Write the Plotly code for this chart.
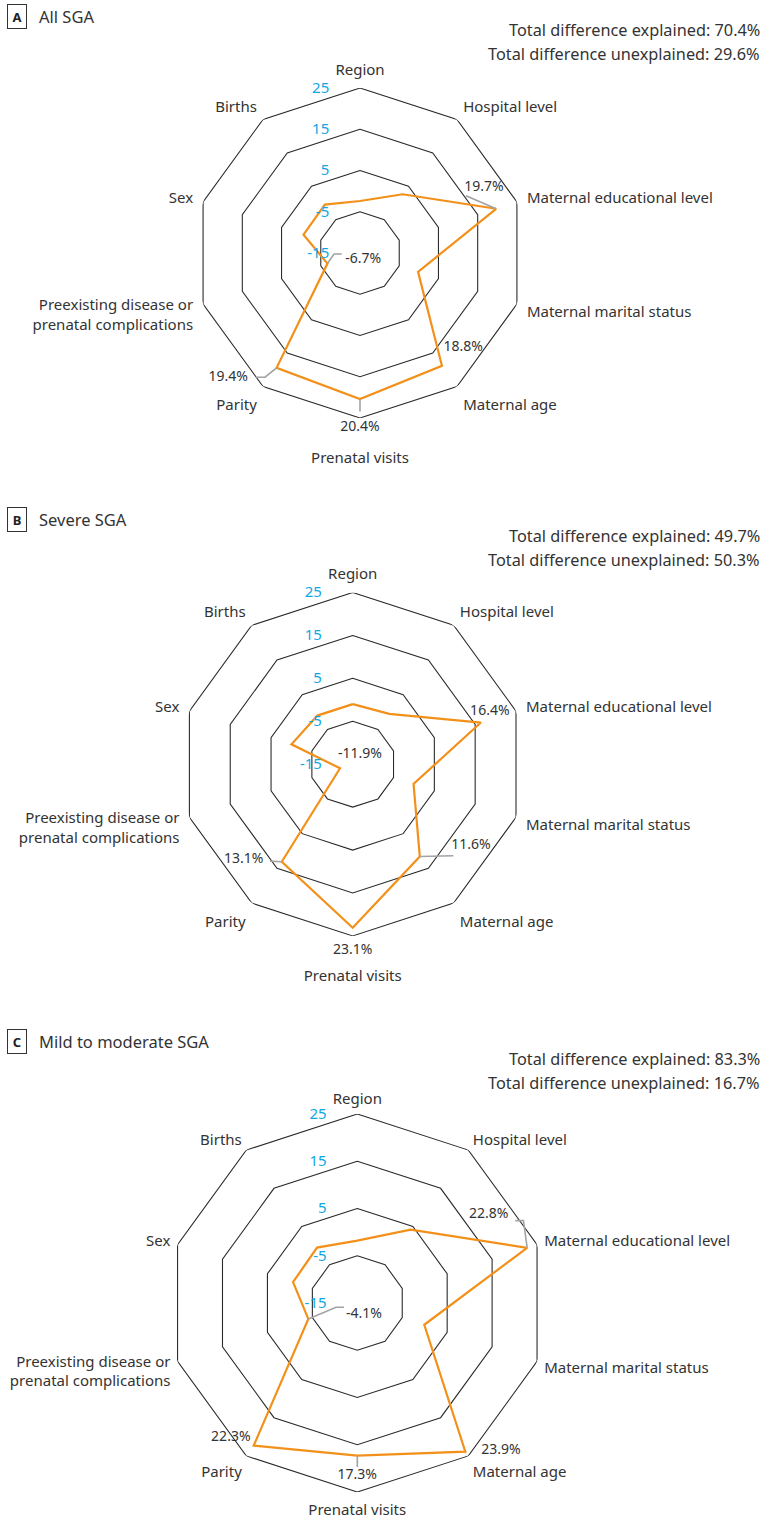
import plotly.graph_objects as go

# ---------------- data ----------------
categories = ["Region", "Hospital level", "Maternal educational level",
              "Maternal marital status", "Maternal age", "Prenatal visits",
              "Parity", "Preexisting disease or<br>prenatal complications",
              "Sex", "Births"]
radial_ticks = [-15, -5, 5, 15, 25]
radial_ticktext = ["-15", "-5", "5", "15", "25"]

all_sga = [-2.4, 2.6, 19.7, -0.2, 18.8, 20.4, 19.4, -6.7, -0.6, -0.5]
severe_sga = [-1.0, -0.5, 16.4, -0.1, 11.6, 23.1, 13.1, -11.9, 0.0, -1.0]
mild_sga = [-1.8, 4.2, 22.8, -0.1, 23.9, 17.3, 22.3, -4.1, -0.7, -0.5]

panel_letters = ["A", "B", "C"]
panel_titles = ["All SGA", "Severe SGA", "Mild to moderate SGA"]
explained = [70.4, 49.7, 83.3]
unexplained = [29.6, 50.3, 16.7]
labeled_idx = [2, 4, 5, 6, 7]

# ---------------- layout / style ----------------
W, H = 767, 1519
FONT = "Noto Sans"
ORANGE = "#F39019"
BLUE = "#12A7E4"
GRID = "#2b2b2b"
LEAD = "#A3A3A3"
TXT = "#333333"
LABEL_RMAX = 29.5   # radial range of the overlay used for value labels

# panel geometry: centre x, centre y (px from top), outer radius (px)
geom = [(360, 253, 165), (352.7, 764.2, 171.7), (357.3, 1303, 189)]
cat_ticklen = [7, 7, 4]
push_bottom_label = [True, True, False]   # bottom category label sits below a value label
header_y = [17, 519, 1041]
total_y = [(30, 54), (536, 560), (1059, 1083)]

# label placement per panel: idx -> (text (theta, r), leader points [(theta, r), ...])
placements = [
    {2: ((62.0, 19.0), [(61.6, 14.2)]),
     4: ((132.4, 18.85), []),
     5: ((180, 27.4), [(180, 23.4)]),
     6: ((226.6, 29.0), [(217.4, 22.9), (219.9, 24.25)]),
     7: ((152, -13.3), [(267.8, -8.7), (266.9, -10.57)])},
    {2: ((69.1, 19.2), []),
     4: ((124.5, 18.4), [(132.3, 16.7)]),
     5: ((180, 28.5), []),
     6: ((228.9, 18.7), [(220.5, 14.7)]),
     7: ((37.5, -12.2), [])},
    {2: ((55.9, 18.56), [(63.6, 24.26), (62.45, 22.7)]),
     4: ((135.8, 28.6), []),
     5: ((180, 21.6), [(180, 19.7)]),
     6: ((223.2, 24.1), []),
     7: ((150.8, -12.1), [(258.6, -10.4), (252.1, -12.04)])},
]

angles = [i * 360 / len(categories) for i in range(len(categories))]
series = [all_sga, severe_sga, mild_sga]
rmin, rmax = radial_ticks[0], radial_ticks[-1]

fig = go.Figure()
annotations = []


def dom_for(cx, cy, R):
    return dict(x=[(cx - R) / W, (cx + R) / W],
                y=[1 - (cy + R) / H, 1 - (cy - R) / H])


for p, vals in enumerate(series):
    main = "polar" if p == 0 else f"polar{2 * p + 1}"
    over = f"polar{2 * p + 2}"
    cx, cy, R = geom[p]
    R_over = R * (LABEL_RMAX - rmin) / (rmax - rmin)

    ticktext = list(categories)
    if push_bottom_label[p]:
        ticktext[5] = "<br>" + ticktext[5]

    # decagon grid rings
    for t in radial_ticks[1:]:
        fig.add_trace(go.Scatterpolar(
            r=[t] * (len(angles) + 1), theta=angles + [angles[0]],
            mode="lines", line=dict(color=GRID, width=1.1),
            hoverinfo="skip", showlegend=False, subplot=main))

    # data polygon
    fig.add_trace(go.Scatterpolar(
        r=vals + [vals[0]], theta=angles + [angles[0]],
        mode="lines", line=dict(color=ORANGE, width=2.2),
        hoverinfo="skip", showlegend=False, subplot=main))

    # leaders and value labels (overlay polar with same scale, larger range)
    tx_r, tx_t, tx_s = [], [], []
    for i in labeled_idx:
        (tt, tr), lead = placements[p][i]
        if lead:
            fig.add_trace(go.Scatterpolar(
                r=[vals[i]] + [q[1] for q in lead],
                theta=[angles[i]] + [q[0] for q in lead],
                mode="lines", line=dict(color=LEAD, width=1.6),
                hoverinfo="skip", showlegend=False, subplot=over))
        tx_r.append(tr)
        tx_t.append(tt)
        tx_s.append(f"{vals[i]:.1f}%")
    fig.add_trace(go.Scatterpolar(
        r=tx_r, theta=tx_t, text=tx_s, mode="text",
        textposition="middle center",
        textfont=dict(family=FONT, size=14, color=TXT),
        hoverinfo="skip", showlegend=False, subplot=over))

    fig.update_layout({main: dict(
        domain=dom_for(cx, cy, R),
        bgcolor="rgba(0,0,0,0)",
        angularaxis=dict(
            rotation=90, direction="clockwise", thetaunit="degrees",
            tickmode="array", tickvals=angles, ticktext=ticktext,
            showgrid=False, showline=False,
            ticks="outside", ticklen=cat_ticklen[p], tickcolor="rgba(0,0,0,0)",
            tickfont=dict(family=FONT, size=15, color=TXT)),
        radialaxis=dict(
            range=[rmin, rmax],
            tickmode="array", tickvals=radial_ticks, ticktext=radial_ticktext,
            angle=90, side="counterclockwise", tickangle=90,
            showgrid=False, showline=False,
            ticks="outside", ticklen=25, tickcolor="rgba(0,0,0,0)",
            tickfont=dict(family=FONT, size=15, color=BLUE)),
    )})
    fig.update_layout({over: dict(
        domain=dom_for(cx, cy, R_over),
        bgcolor="rgba(0,0,0,0)",
        angularaxis=dict(rotation=90, direction="clockwise",
                         thetaunit="degrees", visible=False),
        radialaxis=dict(range=[rmin, LABEL_RMAX], visible=False),
    )})

    # panel header
    hy = 1 - header_y[p] / H
    annotations.append(dict(
        x=17 / W, y=hy, xref="paper", yref="paper", showarrow=False,
        text=f"<b>{panel_letters[p]}</b>", xanchor="center", yanchor="middle",
        font=dict(family=FONT, size=13, color="#222"),
        bordercolor="#333", borderwidth=1, borderpad=2.5, width=13))
    annotations.append(dict(
        x=37 / W, y=hy, xref="paper", yref="paper", showarrow=False,
        text=panel_titles[p], xanchor="left", yanchor="middle",
        font=dict(family=FONT, size=16.5, color=TXT)))
    annotations.append(dict(
        x=762 / W, y=1 - total_y[p][0] / H, xref="paper", yref="paper",
        showarrow=False, xanchor="right", yanchor="middle",
        text=f"Total difference explained: {explained[p]:.1f}%",
        font=dict(family=FONT, size=16.3, color=TXT)))
    annotations.append(dict(
        x=762 / W, y=1 - total_y[p][1] / H, xref="paper", yref="paper",
        showarrow=False, xanchor="right", yanchor="middle",
        text=f"Total difference unexplained: {unexplained[p]:.1f}%",
        font=dict(family=FONT, size=16.3, color=TXT)))

fig.update_layout(
    width=W, height=H, margin=dict(l=0, r=0, t=0, b=0),
    paper_bgcolor="white", plot_bgcolor="white",
    annotations=annotations, showlegend=False,
    font=dict(family=FONT, color=TXT))

fig.write_html("out.html")
